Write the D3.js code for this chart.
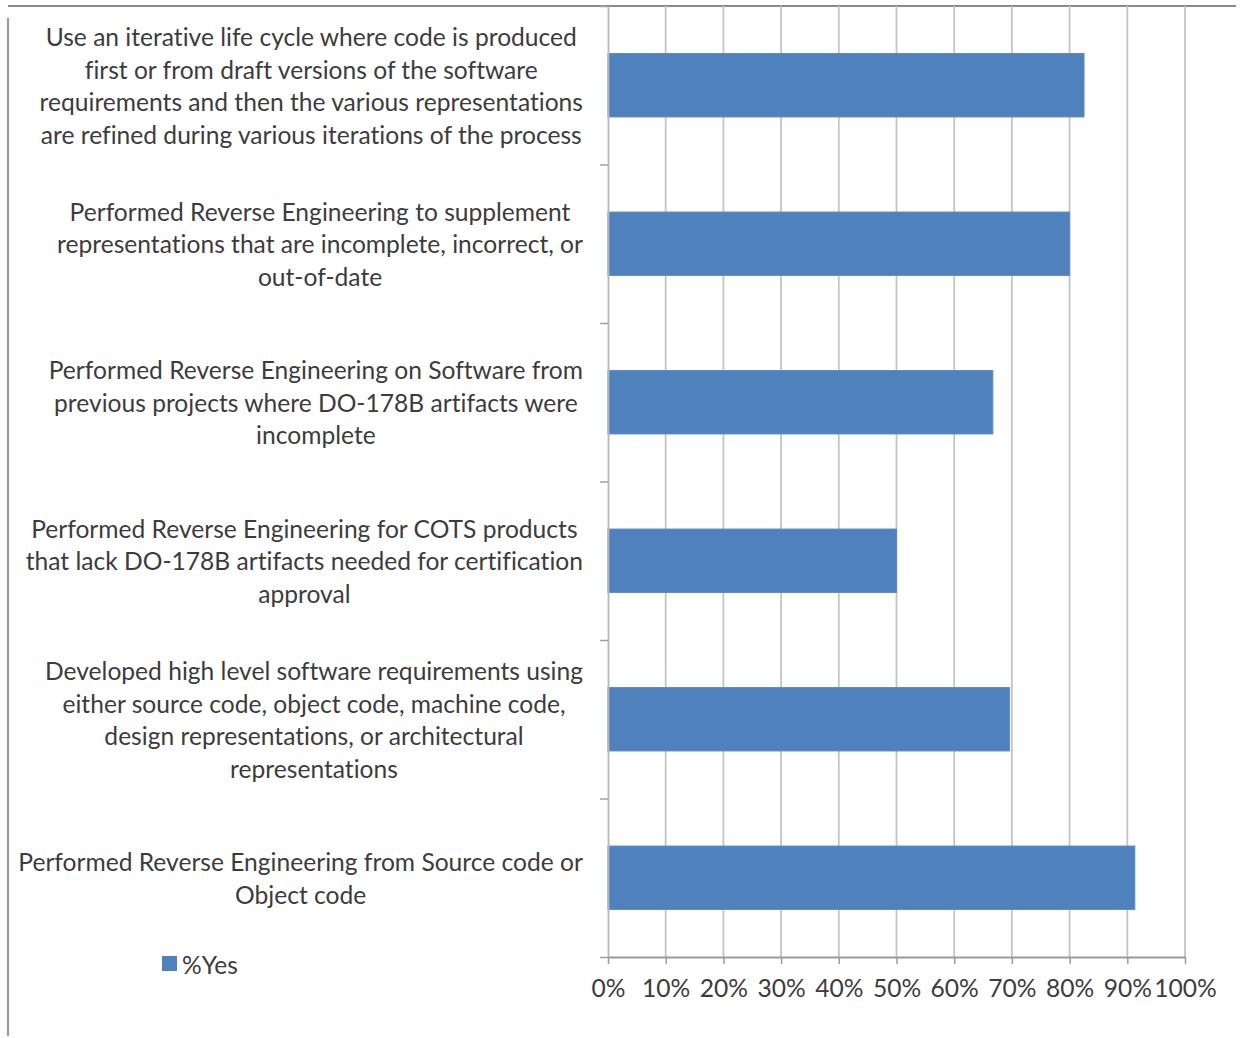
<!DOCTYPE html>
<html>
<head>
<meta charset="utf-8">
<script src="https://cdn.jsdelivr.net/npm/d3@7"></script>
<style>
  html, body { margin: 0; padding: 0; background: #fff; }
  svg { display: block; }
  text { font-family: Lato, "Open Sans", sans-serif; font-variant-ligatures: none; }
</style>
</head>
<body>
<script>
// Survey categories, top to bottom, with their wrapped label lines
const categoryLines = [
  ["Use an iterative life cycle where code is produced",
   "first or from draft versions of the software",
   "requirements and then the various representations",
   "are refined during various iterations of the process"],
  ["Performed Reverse Engineering to supplement",
   "representations that are incomplete, incorrect, or",
   "out-of-date"],
  ["Performed Reverse Engineering on Software from",
   "previous projects where DO-178B artifacts were",
   "incomplete"],
  ["Performed Reverse Engineering for COTS products",
   "that lack DO-178B artifacts needed for certification",
   "approval"],
  ["Developed high level software requirements using",
   "either source code, object code, machine code,",
   "design representations, or architectural",
   "representations"],
  ["Performed Reverse Engineering from Source code or",
   "Object code"]
];
const categories = categoryLines.map(l => l.join(" "));

// Share of respondents answering yes
const yesValues = [0.825, 0.80, 0.667, 0.50, 0.696, 0.913];
const seriesName = "%Yes";

// Percent axis ticks
const tickValues = [0, 0.1, 0.2, 0.3, 0.4, 0.5, 0.6, 0.7, 0.8, 0.9, 1.0];

const W = 1248, H = 1038;
const plot = { left: 608, right: 1185, top: 6, bottom: 957 };
const barColor = "#4f81bd";
const textColor = "#3c3c3c";
const fontSize = 24.6;

const svg = d3.select("body").append("svg")
  .attr("width", W).attr("height", H);

svg.append("rect").attr("width", W).attr("height", H).attr("fill", "#fff");

const x = d3.scaleLinear().domain([0, 1]).range([plot.left, plot.right]);
const y = d3.scaleBand().domain(categories)
  .range([plot.top, plot.bottom]).paddingInner(0.6).paddingOuter(0.3);
const yEdge = d3.scaleLinear().domain([0, categories.length])
  .range([plot.top, plot.bottom]);

// Outer frame (top and left edges)
svg.append("line").attr("x1", 8).attr("x2", 1236).attr("y1", 6).attr("y2", 6)
  .attr("stroke", "#8a8a8a").attr("stroke-width", 2.2);
svg.append("line").attr("x1", 8).attr("x2", 8).attr("y1", 18).attr("y2", 1036)
  .attr("stroke", "#9a9a9a").attr("stroke-width", 2.2);

// Vertical gridlines
svg.append("g").selectAll("line").data(tickValues.slice(1)).join("line")
  .attr("x1", d => x(d)).attr("x2", d => x(d))
  .attr("y1", plot.top).attr("y2", plot.bottom)
  .attr("stroke", "#c4c4c4").attr("stroke-width", 1.8);

// Bars
svg.append("g").selectAll("rect").data(yesValues).join("rect")
  .attr("x", x(0))
  .attr("y", (d, i) => y(categories[i]))
  .attr("width", d => x(d) - x(0))
  .attr("height", y.bandwidth())
  .attr("fill", barColor)
  .attr("stroke", "#5b8cc6").attr("stroke-width", 1);

// Category axis: ticks at band boundaries
const yAxis = svg.append("g")
  .attr("transform", `translate(${plot.left},0)`)
  .call(d3.axisLeft(yEdge).tickValues(d3.range(categories.length + 1))
    .tickFormat("").tickSize(8).tickSizeOuter(0));
yAxis.select(".domain").attr("stroke", "#b8b8b8").attr("stroke-width", 1.8);
yAxis.selectAll(".tick line").attr("stroke", "#a0a0a0").attr("stroke-width", 1.5);

// Percent axis
const xAxis = svg.append("g")
  .attr("transform", `translate(0,${plot.bottom})`)
  .call(d3.axisBottom(x).tickValues(tickValues)
    .tickFormat(d3.format(".0%")).tickSize(7).tickSizeOuter(0).tickPadding(16));
xAxis.select(".domain").attr("stroke", "#9a9a9a").attr("stroke-width", 1.8);
xAxis.selectAll(".tick line").attr("stroke", "#9a9a9a").attr("stroke-width", 1.5);
xAxis.selectAll(".tick text")
  .attr("font-size", fontSize).attr("fill", textColor)
  .attr("font-family", "Lato, 'Open Sans', sans-serif");

// Category labels: lines centred on each other, block right-aligned to the axis
const lineH = 32.5;
const labelRight = 583;
const labels = svg.append("g");
categoryLines.forEach((lines, i) => {
  const cy = y(categories[i]) + y.bandwidth() / 2;
  const g = labels.append("g");
  const texts = g.selectAll("text").data(lines).join("text")
    .attr("y", (d, j) => cy + (j - (lines.length - 1) / 2) * lineH)
    .attr("dominant-baseline", "central")
    .attr("text-anchor", "middle")
    .attr("font-size", fontSize)
    .attr("fill", textColor)
    .text(d => d);
  const maxW = d3.max(texts.nodes(), n => n.getComputedTextLength());
  texts.attr("x", labelRight - maxW / 2);
});

// Legend
const legend = svg.append("g").attr("transform", "translate(162,956)");
legend.append("rect").attr("width", 15).attr("height", 15).attr("fill", barColor);
legend.append("text").attr("x", 20).attr("y", 8)
  .attr("dominant-baseline", "central")
  .attr("font-size", fontSize).attr("fill", textColor)
  .text(seriesName);
</script>
</body>
</html>
